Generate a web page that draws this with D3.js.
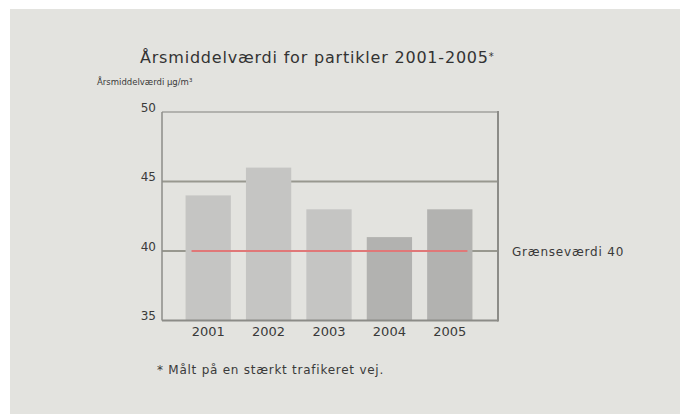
<!DOCTYPE html>
<html>
<head>
<meta charset="utf-8">
<script src="https://cdn.jsdelivr.net/npm/d3@7"></script>
<style>
  html, body { margin: 0; padding: 0; background: #fff; }
  svg { display: block; font-family: "DejaVu Sans", Verdana, sans-serif; }
</style>
</head>
<body>
<svg id="chart" width="680" height="414"></svg>
<script>
// data
var years = ["2001", "2002", "2003", "2004", "2005"];
var values = [44, 46, 43, 41, 43];
var yTicks = [35, 40, 45, 50];
var gridValues = [40, 45];
var limitValue = 40;
var limitLabel = "Grænseværdi 40";

// styles
var barFill = ["#c5c5c3", "#c5c5c3", "#c5c5c3", "#b2b2b0", "#b2b2b0"];
var textColor = "#3a3a3a";

var svg = d3.select("#chart");

svg.append("rect")
    .attr("x", 10)
    .attr("y", 9)
    .attr("width", 670)
    .attr("height", 405)
    .attr("fill", "#e3e3df");

var plotLeft = 162, plotRight = 498, plotTop = 112, plotBottom = 320.5;

var y = d3.scaleLinear().domain([35, 50]).range([plotBottom, plotTop]);
var x = d3.scaleBand().domain(years).range([178, 480])
    .paddingInner(0.25).paddingOuter(0.125);

// grid lines (behind the bars)
svg.append("g").selectAll("line")
    .data(gridValues)
    .join("line")
    .attr("x1", plotLeft)
    .attr("x2", plotRight)
    .attr("y1", function (d) { return y(d); })
    .attr("y2", function (d) { return y(d); })
    .attr("stroke", "#98988f")
    .attr("stroke-width", 2);

// bars
svg.append("g").selectAll("rect")
    .data(values)
    .join("rect")
    .attr("x", function (d, i) { return x(years[i]); })
    .attr("width", x.bandwidth())
    .attr("y", function (d) { return y(d); })
    .attr("height", function (d) { return y(35) - y(d); })
    .attr("fill", function (d, i) { return barFill[i]; });

// limit line
svg.append("line")
    .attr("x1", x(years[0]) + 6)
    .attr("x2", x(years[years.length - 1]) + x.bandwidth() - 5)
    .attr("y1", y(limitValue))
    .attr("y2", y(limitValue))
    .attr("stroke", "#e07878")
    .attr("stroke-width", 2);

// frame
svg.append("line")
    .attr("x1", plotLeft).attr("x2", plotRight)
    .attr("y1", plotTop).attr("y2", plotTop)
    .attr("stroke", "#a2a29e").attr("stroke-width", 1.5);
svg.append("line")
    .attr("x1", plotLeft).attr("x2", plotLeft)
    .attr("y1", plotTop).attr("y2", plotBottom)
    .attr("stroke", "#8c8c88").attr("stroke-width", 1.5);
svg.append("line")
    .attr("x1", plotRight).attr("x2", plotRight)
    .attr("y1", plotTop - 1).attr("y2", plotBottom + 1)
    .attr("stroke", "#8c8c88").attr("stroke-width", 2);
svg.append("line")
    .attr("x1", plotLeft).attr("x2", plotRight)
    .attr("y1", plotBottom).attr("y2", plotBottom)
    .attr("stroke", "#8c8c88").attr("stroke-width", 2);

// axes
var yAxis = svg.append("g")
    .attr("transform", "translate(" + plotLeft + ",0)")
    .call(d3.axisLeft(y).tickValues(yTicks).tickSize(0).tickPadding(6));
yAxis.select(".domain").remove();
yAxis.selectAll("text")
    .attr("dy", "-0.05em")
    .attr("fill", textColor)
    .style("font-size", "12px")
    .style("font-family", "DejaVu Sans");

var xAxis = svg.append("g")
    .attr("transform", "translate(0," + plotBottom + ")")
    .call(d3.axisBottom(x).tickSize(0).tickPadding(6));
xAxis.select(".domain").remove();
xAxis.selectAll("text")
    .attr("fill", textColor)
    .style("font-size", "13px")
    .style("font-family", "DejaVu Sans");

// texts
var title = svg.append("text")
    .attr("x", 140)
    .attr("y", 63)
    .attr("fill", "#333")
    .style("font-size", "16px")
    .style("letter-spacing", "0.8px");
title.append("tspan").text("Årsmiddelværdi for partikler 2001-2005");
title.append("tspan")
    .attr("dy", "-3")
    .style("font-size", "10px")
    .text("*");

svg.append("text")
    .attr("x", 97)
    .attr("y", 85)
    .attr("fill", textColor)
    .style("font-size", "8.5px")
    .text("Årsmiddelværdi µg/m³");

svg.append("text")
    .attr("x", 512)
    .attr("y", y(limitValue) + 4.5)
    .attr("fill", textColor)
    .style("font-size", "12px")
    .style("letter-spacing", "0.8px")
    .text(limitLabel);

svg.append("text")
    .attr("x", 157)
    .attr("y", 374)
    .attr("fill", textColor)
    .style("font-size", "12px")
    .style("letter-spacing", "0.75px")
    .text("* Målt på en stærkt trafikeret vej.");
</script>
</body>
</html>
